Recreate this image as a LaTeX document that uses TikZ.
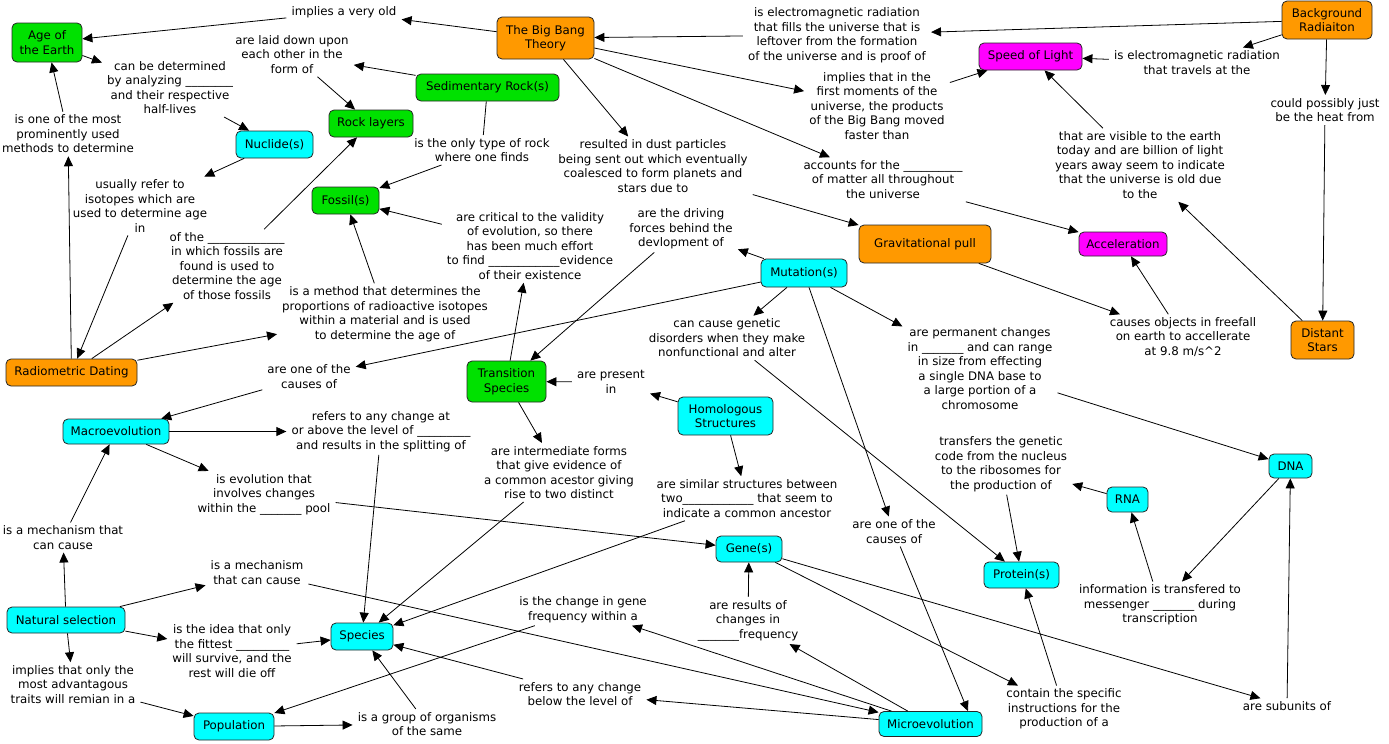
\documentclass[tikz,border=0pt]{standalone}
\usepackage{fontspec}
\setmainfont{DejaVu Sans}
\usetikzlibrary{arrows.meta}
\definecolor{cgreen}{RGB}{0,225,0}
\definecolor{corange}{RGB}{255,153,0}
\definecolor{ccyan}{RGB}{0,255,255}
\definecolor{cmag}{RGB}{255,0,255}
\begin{document}
\begin{tikzpicture}[x=1pt,y=-1pt,
  every node/.style={font=\fontsize{11.8}{14.5}\selectfont},
  con/.style={draw=black!85, line width=0.8pt, rounded corners=5pt, align=center, inner sep=0pt, text=black},
  lab/.style={align=center, inner xsep=5pt, inner ysep=3pt},
  arr/.style={line width=0.8pt, -{Triangle[length=10pt,width=9pt]}},
  ln/.style={line width=0.8pt}]
\fill[white] (0,0) rectangle (1389,744);
\useasboundingbox (0,0) rectangle (1389,744);
% concepts
\node[con, fill=cgreen, minimum width=70pt, minimum height=39pt] (age) at (47,42.5) {Age of\\the Earth};
\node[con, fill=corange, minimum width=97pt, minimum height=42pt] (bb) at (545.5,38) {The Big Bang\\Theory};
\node[con, fill=corange, minimum width=90pt, minimum height=38pt] (bg) at (1327,20) {Background\\Radiaiton};
\node[con, fill=cmag, minimum width=103pt, minimum height=27pt] (sol) at (1030.5,56.5) {Speed of Light};
\node[con, fill=cgreen, minimum width=143pt, minimum height=27pt] (sed) at (487.5,87.5) {Sedimentary Rock(s)};
\node[con, fill=cgreen, minimum width=84pt, minimum height=27pt] (rock) at (371,123.5) {Rock layers};
\node[con, fill=ccyan, minimum width=77pt, minimum height=27pt] (nuc) at (274.5,144.5) {Nuclide(s)};
\node[con, fill=cgreen, minimum width=67pt, minimum height=27pt] (fos) at (345.5,200.5) {Fossil(s)};
\node[con, fill=corange, minimum width=132pt, minimum height=38pt] (grav) at (925,244) {Gravitational pull};
\node[con, fill=cmag, minimum width=88pt, minimum height=24pt] (acc) at (1123,244) {Acceleration};
\node[con, fill=ccyan, minimum width=86pt, minimum height=28pt] (mut) at (804,273) {Mutation(s)};
\node[con, fill=corange, minimum width=131pt, minimum height=27pt] (rd) at (71.5,372.5) {Radiometric Dating};
\node[con, fill=corange, minimum width=63pt, minimum height=38pt] (ds) at (1322.5,340) {Distant\\Stars};
\node[con, fill=cgreen, minimum width=79pt, minimum height=41pt] (ts) at (506.5,381.5) {Transition\\Species};
\node[con, fill=ccyan, minimum width=95pt, minimum height=38pt] (hom) at (725.5,416) {Homologous\\Structures};
\node[con, fill=ccyan, minimum width=106pt, minimum height=25pt] (mac) at (116,431.5) {Macroevolution};
\node[con, fill=ccyan, minimum width=43pt, minimum height=24pt] (dna) at (1290.5,466) {DNA};
\node[con, fill=ccyan, minimum width=41pt, minimum height=25pt] (rna) at (1127.5,499.5) {RNA};
\node[con, fill=ccyan, minimum width=66pt, minimum height=26pt] (gene) at (749,549) {Gene(s)};
\node[con, fill=ccyan, minimum width=75pt, minimum height=26pt] (prot) at (1021.5,575) {Protein(s)};
\node[con, fill=ccyan, minimum width=118pt, minimum height=26pt] (ns) at (66,620) {Natural selection};
\node[con, fill=ccyan, minimum width=62pt, minimum height=27pt] (sp) at (362,636.5) {Species};
\node[con, fill=ccyan, minimum width=80pt, minimum height=27pt] (pop) at (234,726.5) {Population};
\node[con, fill=ccyan, minimum width=103pt, minimum height=25pt] (mic) at (930.5,724) {Microevolution};
% linking phrases
\node[lab] (l1) at (344,12) {implies a very old};
\node[lab] (l2) at (292,54.5) {are laid down upon\\each other in the\\form of};
\node[lab] (l3) at (170,87.5) {can be determined\\by analyzing \_\_\_\_\_\_\_\_\\and their respective\\half-lives};
\node[lab] (l4) at (68,134) {is one of the most\\prominently used\\methods to determine};
\node[lab] (l5) at (140,206) {usually refer to\\isotopes which are\\used to determine age\\in};
\node[lab] (l6) at (227,266) {of the \_\_\_\_\_\_\_\_\_\_\_\_\_\\in which fossils are\\found is used to\\determine the age\\of those fossils};
\node[lab] (l7) at (385,314) {is a method that determines the\\proportions of radioactive isotopes\\within a material and is used\\to determine the age of};
\node[lab] (l8) at (482,150) {is the only type of rock\\where one finds};
\node[lab] (l9) at (653,166) {resulted in dust particles\\being sent out which eventually\\coalesced to form planets and\\stars due to};
\node[lab] (l10) at (530,246) {are critical to the validity\\of evolution, so there\\has been much effort\\to find \_\_\_\_\_\_\_\_\_\_\_\_evidence\\of their existence};
\node[lab] (l11) at (681,229) {are the driving\\forces behind the\\devlopment of};
\node[lab] (l12) at (877,106) {implies that in the\\first moments of the\\universe, the products\\of the Big Bang moved\\faster than};
\node[lab] (l13) at (883,179.5) {accounts for the \_\_\_\_\_\_\_\_\_\_\\of matter all throughout\\the universe};
\node[lab] (l14) at (837,35) {is electromagnetic radiation\\that fills the universe that is\\leftover from the formation\\of the universe and is proof of};
\node[lab] (l15) at (1197,62.5) {is electromagnetic radiation\\that travels at the};
\node[lab] (l16) at (1325,110) {could possibly just\\be the heat from};
\node[lab] (l17) at (1140,165) {that are visible to the earth\\today and are billion of light\\years away seem to indicate\\that the universe is old due\\to the};
\node[lab] (l18) at (1183,337) {causes objects in freefall\\on earth to accellerate\\at 9.8 m/s\^{}2};
\node[lab] (l19) at (980,368.5) {are permanent changes\\in \_\_\_\_\_\_\_ and can range\\in size from effecting\\a single DNA base to\\a large portion of a\\chromosome};
\node[lab] (l20) at (727,338) {can cause genetic\\disorders when they make\\nonfunctional and alter};
\node[lab] (l21) at (309,376.5) {are one of the\\causes of};
\node[lab] (l22) at (894,531.5) {are one of the\\causes of};
\node[lab] (l23) at (611,382) {are present\\in};
\node[lab] (l24) at (559,472.5) {are intermediate forms\\that give evidence of\\a common acestor giving\\rise to two distinct};
\node[lab] (l25) at (747,498.5) {are similar structures between\\two\_\_\_\_\_\_\_\_\_\_\_\_ that seem to\\indicate a common ancestor};
\node[lab] (l26) at (381,431.5) {refers to any change at\\or above the level of \_\_\_\_\_\_\_\_\_\\and results in the splitting of};
\node[lab] (l27) at (264,494.5) {is evolution that\\involves changes\\within the \_\_\_\_\_\_\_ pool};
\node[lab] (l28) at (63,537.5) {is a mechanism that\\can cause};
\node[lab] (l29) at (257,572.5) {is a mechanism\\that can cause};
\node[lab] (l30) at (583,609.5) {is the change in gene\\frequency within a};
\node[lab] (l31) at (580,694) {refers to any change\\below the level of};
\node[lab] (l32) at (748,620.5) {are results of\\changes in\\\_\_\_\_\_\_\_frequency};
\node[lab] (l33) at (232,651) {is the idea that only\\the fittest \_\_\_\_\_\_\_\_\_\\will survive, and the\\rest will die off};
\node[lab] (l34) at (73,684.5) {implies that only the\\most advantagous\\traits will remian in a};
\node[lab] (l35) at (427,724) {is a group of organisms\\of the same};
\node[lab] (l36) at (1064,709) {contain the specific\\instructions for the\\production of a};
\node[lab] (l37) at (1287,706) {are subunits of};
\node[lab] (l38) at (1001,464) {transfers the genetic\\code from the nucleus\\to the ribosomes for\\the production of};
\node[lab] (l39) at (1160,605) {information is transfered to\\messenger \_\_\_\_\_\_\_ during\\transcription};
% connectors
\draw[arr] (bb) -- (l1);
\draw[arr] (l1) -- (age);
\draw[arr] (sed) -- (l2);
\draw[arr] (l2) -- (rock);
\draw[arr] (age) -- (l3);
\draw[arr] (l3) -- (nuc);
\draw[arr] (rd) -- (l4);
\draw[arr] (l4) -- (age);
\draw[arr] (nuc) -- (l5);
\draw[arr] (l5) -- (rd);
\draw[arr] (rd) -- (l6);
\draw[arr] (l6) -- (rock);
\draw[arr] (rd) -- (l7);
\draw[arr] (l7) -- (fos);
\draw[ln] (sed) -- (l8);
\draw[arr] (l8) -- (fos);
\draw[arr] (bb) -- (l9);
\draw[arr] (l9) -- (grav);
\draw[arr] (ts) -- (l10);
\draw[arr] (l10) -- (fos);
\draw[arr] (mut) -- (l11);
\draw[arr] (l11) -- (ts);
\draw[arr] (bb) -- (l12);
\draw[arr] (l12) -- (sol);
\draw[arr] (bb) -- (l13);
\draw[arr] (l13) -- (acc);
\draw[arr] (bg) -- (l14);
\draw[arr] (l14) -- (bb);
\draw[arr] (bg) -- (l15);
\draw[arr] (l15) -- (sol);
\draw[arr] (bg) -- (l16);
\draw[arr] (l16) -- (ds);
\draw[arr] (ds) -- (l17);
\draw[arr] (l17) -- (sol);
\draw[arr] (grav) -- (l18);
\draw[arr] (l18) -- (acc);
\draw[arr] (mut) -- (l19);
\draw[arr] (l19) -- (dna);
\draw[arr] (mut) -- (l20);
\draw[arr] (l20) -- (prot);
\draw[arr] (mut) -- (l21);
\draw[arr] (l21) -- (mac);
\draw[arr] (mut) -- (l22);
\draw[arr] (l22) -- (mic.19);
\draw[arr] (hom) -- (l23);
\draw[arr] (l23) -- (ts);
\draw[arr] (ts) -- (l24);
\draw[arr] (l24) -- (sp);
\draw[arr] (hom) -- (l25);
\draw[arr] (l25) -- (sp);
\draw[arr] (mac) -- (l26);
\draw[arr] (l26) -- (sp);
\draw[arr] (mac) -- (l27);
\draw[arr] (l27) -- (gene);
\draw[arr] (ns) -- (l28);
\draw[arr] (l28) -- (mac);
\draw[arr] (ns) -- (l29);
\draw[arr] (l29) -- (mic);
\draw[arr] (mic) -- (l30);
\draw[arr] (l30) -- (pop);
\draw[arr] (mic) -- (l31);
\draw[arr] (l31) -- (sp);
\draw[arr] (mic) -- (l32);
\draw[arr] (l32) -- (gene);
\draw[arr] (ns) -- (l33);
\draw[arr] (l33) -- (sp);
\draw[arr] (ns) -- (l34);
\draw[arr] (l34) -- (pop);
\draw[arr] (pop) -- (l35);
\draw[arr] (l35) -- (sp);
\draw[arr] (gene) -- (l36);
\draw[arr] (l36) -- (prot);
\draw[arr] (gene) -- (l37);
\draw[arr] (l37) -- (dna);
\draw[arr] (rna) -- (l38);
\draw[arr] (l38) -- (prot);
\draw[arr] (dna) -- (l39);
\draw[arr] (l39) -- (rna);
\end{tikzpicture}
\end{document}
